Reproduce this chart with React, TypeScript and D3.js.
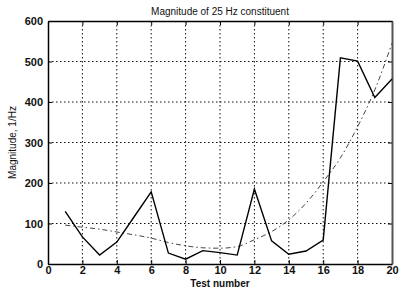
import React, { useEffect, useRef } from "react";
import * as d3 from "d3";

// Magnitude of 25 Hz constituent: measured values vs fitted trend
const testNumbers = [1, 2, 3, 4, 5, 6, 7, 8, 9, 10, 11, 12, 13, 14, 15, 16, 17, 18, 19, 20];
const measured = [130, 67, 22, 54, 116, 178, 27, 12, 33, 28, 22, 185, 57, 24, 32, 59, 509, 501, 411, 457];
const fitted = [96, 91, 86, 79, 72, 64, 53, 45, 40, 39, 43, 60, 80, 109, 150, 203, 262, 339, 430, 545];
const xTicks = [0, 2, 4, 6, 8, 10, 12, 14, 16, 18, 20];
const yTicks = [0, 100, 200, 300, 400, 500, 600];

const App = () => {
  const svgRef = useRef<SVGSVGElement>(null);

  useEffect(() => {
    const svg = d3.select(svgRef.current);
    svg.selectAll("*").remove();

    const margin = { top: 21, right: 9, bottom: 26, left: 48 };
    const svgWidth = 401;
    const svgHeight = 290;
    const width = svgWidth - margin.left - margin.right;
    const height = svgHeight - margin.top - margin.bottom;
    const font = "'Liberation Sans', Arial, sans-serif";

    const g = svg.append("g").attr("transform", `translate(${margin.left},${margin.top})`);

    const x = d3.scaleLinear().domain([0, 20]).range([0, width]);
    const y = d3.scaleLinear().domain([0, 600]).range([height, 0]);

    // grid
    g.selectAll(".vgrid")
      .data(xTicks.slice(1, -1))
      .enter()
      .append("line")
      .attr("x1", (d) => x(d))
      .attr("x2", (d) => x(d))
      .attr("y1", 0)
      .attr("y2", height)
      .attr("stroke", "#111")
      .attr("stroke-width", 1)
      .attr("stroke-dasharray", "1.5,2.5");
    g.selectAll(".hgrid")
      .data(yTicks.slice(1, -1))
      .enter()
      .append("line")
      .attr("x1", 0)
      .attr("x2", width)
      .attr("y1", (d) => y(d))
      .attr("y2", (d) => y(d))
      .attr("stroke", "#111")
      .attr("stroke-width", 1)
      .attr("stroke-dasharray", "1.5,2.5");

    // axes (ticks point inward, matlab style)
    const xAxis = g
      .append("g")
      .attr("transform", `translate(0,${height})`)
      .call(d3.axisBottom(x).tickValues(xTicks).tickSizeInner(-4).tickSizeOuter(0).tickPadding(2));
    const yAxis = g
      .append("g")
      .call(d3.axisLeft(y).tickValues(yTicks).tickSizeInner(-4).tickSizeOuter(0).tickPadding(5));
    // mirrored ticks on top and right
    const xTop = g
      .append("g")
      .call(d3.axisTop(x).tickValues(xTicks).tickSizeInner(-4).tickSizeOuter(0).tickFormat(() => ""));
    const yRight = g
      .append("g")
      .attr("transform", `translate(${width},0)`)
      .call(d3.axisRight(y).tickValues(yTicks).tickSizeInner(-4).tickSizeOuter(0).tickFormat(() => ""));
    [xAxis, yAxis, xTop, yRight].forEach((a) => {
      a.select(".domain").attr("stroke", "#000").attr("stroke-width", 1.5);
      a.selectAll("line").attr("stroke", "#000");
      a.selectAll("text")
        .style("font-family", font)
        .style("font-size", "11px")
        .style("font-weight", "bold")
        .attr("fill", "#111");
    });
    yRight.select(".domain").attr("stroke", "#555").attr("stroke-width", 2);

    // fitted trend (dash-dot, light)
    const line = d3
      .line<number>()
      .x((_, i) => x(testNumbers[i]))
      .y((d) => y(d));
    g.append("path")
      .datum(fitted)
      .attr("d", line.curve(d3.curveMonotoneX))
      .attr("fill", "none")
      .attr("stroke", "#444")
      .attr("stroke-width", 1)
      .attr("stroke-dasharray", "5,3,1.5,3");

    // measured
    g.append("path")
      .datum(measured)
      .attr("d", line.curve(d3.curveLinear))
      .attr("fill", "none")
      .attr("stroke", "#000")
      .attr("stroke-width", 1.4);

    // labels
    svg.append("text")
      .attr("x", margin.left + width / 2)
      .attr("y", 15)
      .attr("text-anchor", "middle")
      .style("font-family", font)
      .style("font-size", "10px")
      .attr("fill", "#111")
      .text("Magnitude of 25 Hz constituent");
    svg.append("text")
      .attr("x", margin.left + width / 2)
      .attr("y", 287)
      .attr("text-anchor", "middle")
      .style("font-family", font)
      .style("font-size", "10px")
      .style("font-weight", "bold")
      .attr("fill", "#111")
      .text("Test number");
    svg.append("text")
      .attr("transform", `translate(16,${margin.top + height / 2}) rotate(-90)`)
      .attr("text-anchor", "middle")
      .style("font-family", font)
      .style("font-size", "10px")
      .attr("fill", "#111")
      .text("Magnitude, 1/Hz");
  }, []);

  return (
    <svg
      ref={svgRef}
      width={401}
      height={290}
      style={{ position: "absolute", left: 0, top: 0, background: "#fff" }}
    />
  );
};

export default App;
